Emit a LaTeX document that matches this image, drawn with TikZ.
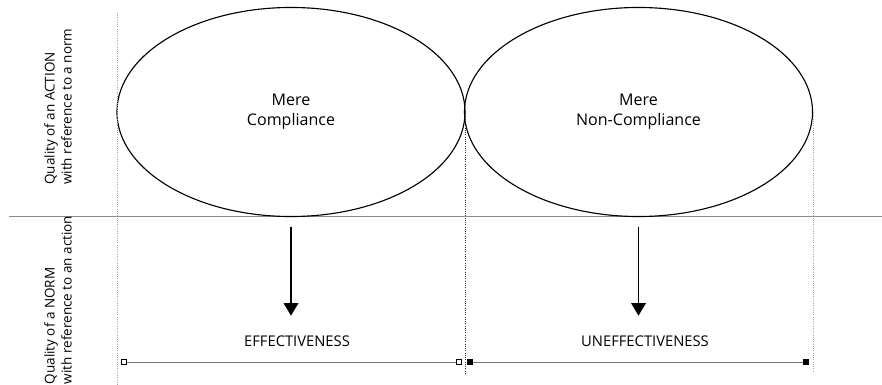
\documentclass[tikz,border=0pt]{standalone}
\usepackage{fontspec}
\setmainfont{Open Sans}
\usetikzlibrary{arrows.meta,shapes.geometric}
\tikzset{
	region/.style={draw, ellipse, line width=0.8pt, minimum width=8.7cm, minimum height=5.225cm, align=center, font=\fontsize{11.4}{14.2}\selectfont},
	normlabel/.style={inner sep=0pt, font=\fontsize{10.5}{12}\selectfont},
	sidelabel/.style={rotate=90, anchor=west, align=left, inner sep=0pt, font=\fontsize{9.6}{12}\selectfont},
	flow/.style={line width=0.8pt, -{Triangle[width=10.5pt, length=9pt]}, shorten <=0.24cm, shorten >=0.49cm},
	sepline/.style={line width=0.6pt, color=black!45},
	guide/.style={line width=0.6pt, densely dotted, color=black!35},
	bar/.style={line width=0.7pt, color=black!55}
}

\begin{document}
\begin{tikzpicture}[x=0.025cm, y=-0.025cm]
	%%%%% START %%%%%
	\useasboundingbox (0,0) rectangle (882,385);
	
	\draw[sepline] (9,216) -- (882,216);
	
	\node[region] (compl) at (291,112) {Mere\\Compliance};
	\node[region] (noncompl) at (638.5,112) {Mere\\Non-Compliance};
	
	\node[normlabel] (eff) at (297,341) {EFFECTIVENESS};
	\node[normlabel] (uneff) at (645,341) {UNEFFECTIVENESS};
	
	\draw[flow] (compl.south) -- (compl.south |- eff.north);
	\draw[flow] (noncompl.south) -- (noncompl.south |- uneff.north);
	
	\node[sidelabel] (actq) at (58,185) {Quality of an ACTION\\with reference to a norm};
	\node[sidelabel] (normq) at (58,384.5) {Quality of a NORM\\with reference to an action};
	
	\coordinate (gl0) at (117,13);
	\coordinate (gl1) at (117,385);
	\coordinate (gm1) at (465,375);
	\coordinate (gr1) at (812,372);
	\draw[guide] (gl0) -- (gl1);
	\draw[guide, color=black!85] (compl.east) -- (compl.east |- gm1);
	\draw[guide] (noncompl.east) -- (noncompl.east |- gr1);
	
	\coordinate (b0) at (121,362);
	\coordinate (b1) at (462,362);
	\coordinate (b2) at (467,362);
	\coordinate (b3) at (809,362);
	\draw[bar, {Square[open, length=4.2pt, width=4.2pt, color=black]}-{Square[open, length=4.2pt, width=4.2pt, color=black]}] (b0) -- (b1);
	\draw[bar, {Square[length=4.2pt, width=4.2pt, color=black]}-{Square[length=4.2pt, width=4.2pt, color=black]}] (b2) -- (b3);
	
	%%%%% END %%%%%
\end{tikzpicture}
\end{document}
